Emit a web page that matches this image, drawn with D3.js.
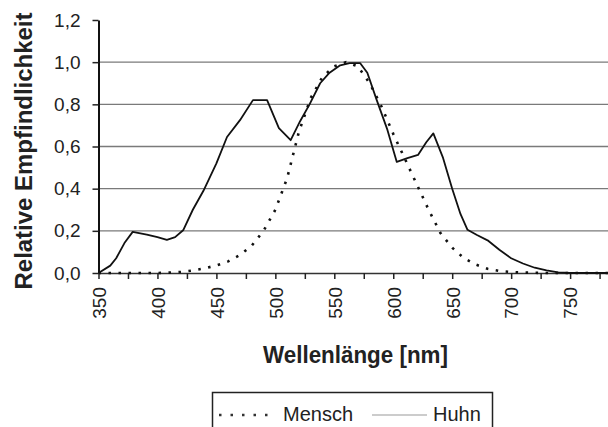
<!DOCTYPE html>
<html>
<head>
<meta charset="utf-8">
<script src="https://cdn.jsdelivr.net/npm/d3@7"></script>
<style>
  body { margin: 0; background: #fff; }
  svg { display: block; font-family: 'Liberation Sans', Arial, sans-serif; }
</style>
</head>
<body>
<svg id="chart" width="608" height="427"></svg>
<script>
width = 608;
height = 427;
margin = { top: 20, right: -21, bottom: 154, left: 98.5 };

// Mensch (human photopic sensitivity), every 10 nm
menschNm = [350, 360, 370, 380, 390, 400, 410, 420, 430, 440, 450, 460, 470, 480, 490,
  500, 510, 520, 530, 540, 550, 560, 570, 580, 590, 600, 610, 620, 630, 640, 650,
  660, 670, 680, 690, 700, 710, 720, 730, 740, 750, 760, 770, 780, 790, 800];
menschVal = [0, 0, 0, 0, 0, 0, 0.002, 0.005, 0.012, 0.022, 0.036, 0.055, 0.085, 0.13, 0.2,
  0.3, 0.45, 0.67, 0.83, 0.93, 0.98, 1.0, 0.98, 0.9, 0.79, 0.66, 0.54, 0.42, 0.3, 0.19, 0.12,
  0.07, 0.04, 0.02, 0.01, 0.005, 0.002, 0.001, 0, 0, 0, 0, 0, 0, 0, 0];

// Huhn (chicken), points
huhnNm = [350, 360, 365, 372, 379, 391, 400, 408, 415, 422, 430, 439, 450, 459, 470, 481,
  493, 503, 513, 521, 529, 538, 546, 555, 563, 572, 578, 586, 595, 603, 612, 621, 628,
  634, 642, 650, 657, 663, 671, 680, 690, 700, 710, 720, 730, 740, 750, 800];
huhnVal = [0, 0.035, 0.07, 0.142, 0.195, 0.182, 0.17, 0.157, 0.17, 0.204, 0.3, 0.39, 0.52,
  0.645, 0.725, 0.82, 0.82, 0.687, 0.63, 0.72, 0.8, 0.9, 0.95, 0.985, 0.995, 0.995, 0.95,
  0.82, 0.68, 0.527, 0.545, 0.56, 0.62, 0.662, 0.55, 0.4, 0.28, 0.205, 0.18, 0.155, 0.11,
  0.07, 0.045, 0.025, 0.012, 0.003, 0, 0];

yTicks = [0, 0.2, 0.4, 0.6, 0.8, 1.0, 1.2];
xTicks = d3.range(350, 800, 25);
xLabels = [350, 400, 450, 500, 550, 600, 650, 700, 750];

const svg = d3.select('#chart').attr('viewBox', [0, 0, width, height]);

x = d3
  .scaleLinear()
  .domain([350, 800])
  .range([margin.left, margin.left + 450 * 1.179]);

y = d3
  .scaleLinear()
  .domain([0, 1.2])
  .range([height - margin.bottom, margin.top]);

const fmt = d => d3.format('.1f')(d).replace('.', ',');

// gridlines
svg
  .append('g')
  .attr('stroke', '#7a7a7a')
  .attr('stroke-width', 1.3)
  .selectAll('line')
  .data(yTicks.filter(d => d > 0 && d < 1.1))
  .join('line')
  .attr('x1', margin.left)
  .attr('x2', width)
  .attr('y1', d => y(d))
  .attr('y2', d => y(d));

// x axis
xAxis = g =>
  g
    .attr('transform', `translate(0,${y(0)})`)
    .call(
      d3
        .axisBottom(x)
        .tickValues(xTicks)
        .tickSize(6)
        .tickSizeOuter(0)
        .tickFormat(d => (xLabels.includes(d) ? d : ''))
    )
    .call(g => g.select('.domain').attr('stroke', '#333').attr('stroke-width', 1.5))
    .call(g => g.selectAll('.tick line').attr('stroke', '#222').attr('stroke-width', 1.5))
    .call(g =>
      g
        .selectAll('.tick text')
        .attr('transform', 'rotate(-90)')
        .attr('x', -14)
        .attr('y', 0)
        .attr('dy', '0.36em')
        .attr('text-anchor', 'end')
        .attr('font-size', 19)
        .attr('fill', '#222')
    );

yAxis = g =>
  g
    .attr('transform', `translate(${margin.left},0)`)
    .call(
      d3
        .axisLeft(y)
        .tickValues(yTicks)
        .tickSize(6)
        .tickSizeOuter(0)
        .tickPadding(12)
        .tickFormat(fmt)
    )
    .call(g => g.select('.domain').attr('stroke', '#111').attr('stroke-width', 2))
    .call(g => g.selectAll('.tick line').attr('stroke', '#222').attr('stroke-width', 1.5))
    .call(g => g.selectAll('.tick text').attr('font-size', 19).attr('fill', '#222'));

svg.append('g').call(xAxis);
svg.append('g').call(yAxis);

const line = d3
  .line()
  .x(d => x(d[0]))
  .y(d => y(d[1]));

svg
  .append('path')
  .datum(d3.zip(menschNm, menschVal))
  .attr('fill', 'none')
  .attr('stroke', '#111')
  .attr('stroke-width', 2.6)
  .attr('stroke-dasharray', '2.5,7.5')
  .attr('d', line);

svg
  .append('path')
  .datum(d3.zip(huhnNm, huhnVal))
  .attr('fill', 'none')
  .attr('stroke', '#111')
  .attr('stroke-width', 1.8)
  .attr('stroke-linejoin', 'round')
  .attr('d', line);

// axis titles
svg
  .append('text')
  .attr('transform', 'translate(32,151) rotate(-90)')
  .attr('text-anchor', 'middle')
  .attr('font-size', 23)
  .attr('font-weight', 'bold')
  .attr('fill', '#222')
  .attr('textLength', 277)
  .attr('lengthAdjust', 'spacingAndGlyphs')
  .text('Relative Empfindlichkeit');

svg
  .append('text')
  .attr('x', 355.5)
  .attr('y', 363)
  .attr('text-anchor', 'middle')
  .attr('font-size', 23)
  .attr('font-weight', 'bold')
  .attr('fill', '#222')
  .attr('textLength', 185)
  .attr('lengthAdjust', 'spacingAndGlyphs')
  .text('Wellenlänge [nm]');

// legend
const legend = svg.append('g');
legend
  .append('rect')
  .attr('x', 212.5)
  .attr('y', 392.5)
  .attr('width', 280)
  .attr('height', 50)
  .attr('fill', 'none')
  .attr('stroke', '#222')
  .attr('stroke-width', 1.5);
legend
  .append('line')
  .attr('x1', 219)
  .attr('x2', 276)
  .attr('y1', 415)
  .attr('y2', 415)
  .attr('stroke', '#333')
  .attr('stroke-width', 2.4)
  .attr('stroke-dasharray', '2.5,9');
legend
  .append('text')
  .attr('x', 283)
  .attr('y', 421)
  .attr('font-size', 20)
  .attr('fill', '#222')
  .text('Mensch');
legend
  .append('line')
  .attr('x1', 372)
  .attr('x2', 427)
  .attr('y1', 415)
  .attr('y2', 415)
  .attr('stroke', '#999')
  .attr('stroke-width', 1);
legend
  .append('text')
  .attr('x', 433)
  .attr('y', 421)
  .attr('font-size', 20)
  .attr('fill', '#222')
  .text('Huhn');
</script>
</body>
</html>
